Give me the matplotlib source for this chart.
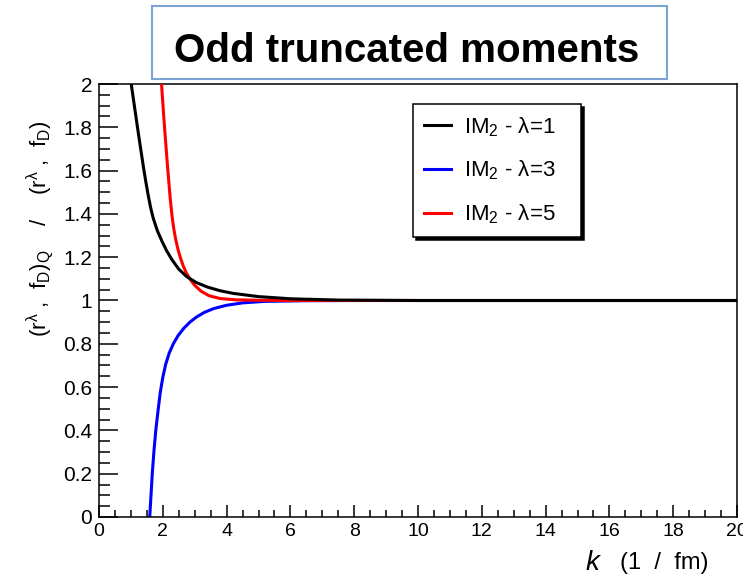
import numpy as np
import matplotlib.pyplot as plt
from matplotlib.patches import Rectangle
from matplotlib.ticker import MultipleLocator, FuncFormatter

plt.rcParams['font.family'] = ['Liberation Sans', 'DejaVu Sans']
plt.rcParams['mathtext.fontset'] = 'custom'
plt.rcParams['mathtext.rm'] = 'Liberation Sans'
plt.rcParams['mathtext.it'] = 'Liberation Sans:italic'
plt.rcParams['mathtext.default'] = 'regular'

# --- ratio of truncated to full moments vs cutoff k ---
# lambda = 1
k_l1 = [1.01, 1.11, 1.21, 1.31, 1.41, 1.48, 1.55, 1.62, 1.70, 1.83, 1.97, 2.12,
        2.28, 2.50, 2.75, 3.05, 3.40, 3.80, 4.20, 5.0, 6.0, 7.5, 10.0, 20.0]
r_l1 = [2.0, 1.898, 1.796, 1.697, 1.600, 1.538, 1.480, 1.428, 1.380, 1.322, 1.275, 1.230,
        1.190, 1.145, 1.110, 1.083, 1.062, 1.045, 1.033, 1.018, 1.008, 1.002, 1.0, 1.0]

# lambda = 3
k_l3 = [1.59, 1.63, 1.67, 1.72, 1.78, 1.85, 1.92, 2.00, 2.09, 2.20, 2.33, 2.48,
        2.66, 2.85, 3.05, 3.30, 3.60, 4.00, 4.50, 5.2, 6.5, 8.0, 20.0]
r_l3 = [0.0, 0.10, 0.20, 0.30, 0.40, 0.49, 0.575, 0.645, 0.705, 0.757, 0.80, 0.838,
        0.872, 0.900, 0.923, 0.945, 0.963, 0.978, 0.989, 0.996, 0.999, 1.0, 1.0]

# lambda = 5
k_l5 = [1.96, 2.02, 2.08, 2.14, 2.19, 2.24, 2.29, 2.34, 2.40, 2.47, 2.55, 2.64,
        2.74, 2.86, 3.00, 3.20, 3.45, 3.80, 4.30, 5.0, 6.0, 20.0]
r_l5 = [2.0, 1.87, 1.75, 1.635, 1.545, 1.46, 1.39, 1.335, 1.285, 1.24, 1.198, 1.16,
        1.127, 1.097, 1.07, 1.043, 1.022, 1.009, 1.003, 1.001, 1.0, 1.0]

labels = [r'IM$_2$ - $\lambda$=1', r'IM$_2$ - $\lambda$=3', r'IM$_2$ - $\lambda$=5']

fig = plt.figure(figsize=(7.43, 5.75), dpi=100)
ax = fig.add_axes([99/743, 58/575, 638/743, 433/575])

h3, = ax.plot(k_l3, r_l3, color='#0000ff', lw=2.2, label=labels[1], zorder=2)
h5, = ax.plot(k_l5, r_l5, color='#ff0000', lw=2.2, label=labels[2], zorder=3)
h1, = ax.plot(k_l1, r_l1, color='black', lw=2.2, label=labels[0], zorder=4)

ax.set_xlim(0, 20)
ax.set_ylim(0, 2)
ax.xaxis.set_major_locator(MultipleLocator(2))
ax.xaxis.set_minor_locator(MultipleLocator(0.5))
ax.yaxis.set_major_locator(MultipleLocator(0.2))
ax.yaxis.set_minor_locator(MultipleLocator(0.05))
ax.yaxis.set_major_formatter(FuncFormatter(lambda v, p: '%g' % round(v, 2)))
ax.tick_params(which='both', direction='in', top=False, right=False, width=1.1)
ax.tick_params(axis='y', which='major', length=13.7, labelsize=15, pad=5)
ax.tick_params(axis='y', which='minor', length=8)
ax.tick_params(axis='x', which='major', length=8.6, labelsize=14, pad=4)
ax.tick_params(axis='x', which='minor', length=5)
for s in ax.spines.values():
    s.set_linewidth(1.1)

# legend box stretched to a fixed width
leg = ax.legend(handles=[h1, h3, h5], loc='upper left', mode='expand',
                bbox_to_anchor=(413/743, 1 - 104/575, 168/743, 0.0),
                bbox_transform=fig.transFigure,
                borderaxespad=0, fontsize=16, frameon=True, fancybox=False,
                edgecolor='black', framealpha=1, handlelength=1.2,
                handletextpad=0.6, labelspacing=0.9, borderpad=0.5,
                shadow={'color': 'black', 'alpha': 1})
leg.get_frame().set_linewidth(1.1)

# title box
fig.add_artist(Rectangle((152/743, 1 - 79/575), 515/743, 73/575,
                         transform=fig.transFigure, fill=False,
                         edgecolor='#7ba3d4', lw=1.5))
fig.text(407/743, 1 - 62/575, 'Odd truncated moments', fontsize=29,
         fontweight='bold', ha='center', va='baseline')

# axis titles
fig.text(40/743, 1 - 229/575,
         r'(r$^{\lambda}$ ,  f$_{D}$)$_{Q}$    /    (r$^{\lambda}$ ,  f$_{D}$)',
         rotation=90, fontsize=16, ha='center', va='center')
fig.text(586/743, 1 - 570/575, 'k', fontsize=20, style='italic',
         ha='left', va='baseline')
fig.text(620/743, 1 - 569/575, '(1  /  fm)', fontsize=17,
         ha='left', va='baseline')

fig.savefig('out.png', dpi=100)
